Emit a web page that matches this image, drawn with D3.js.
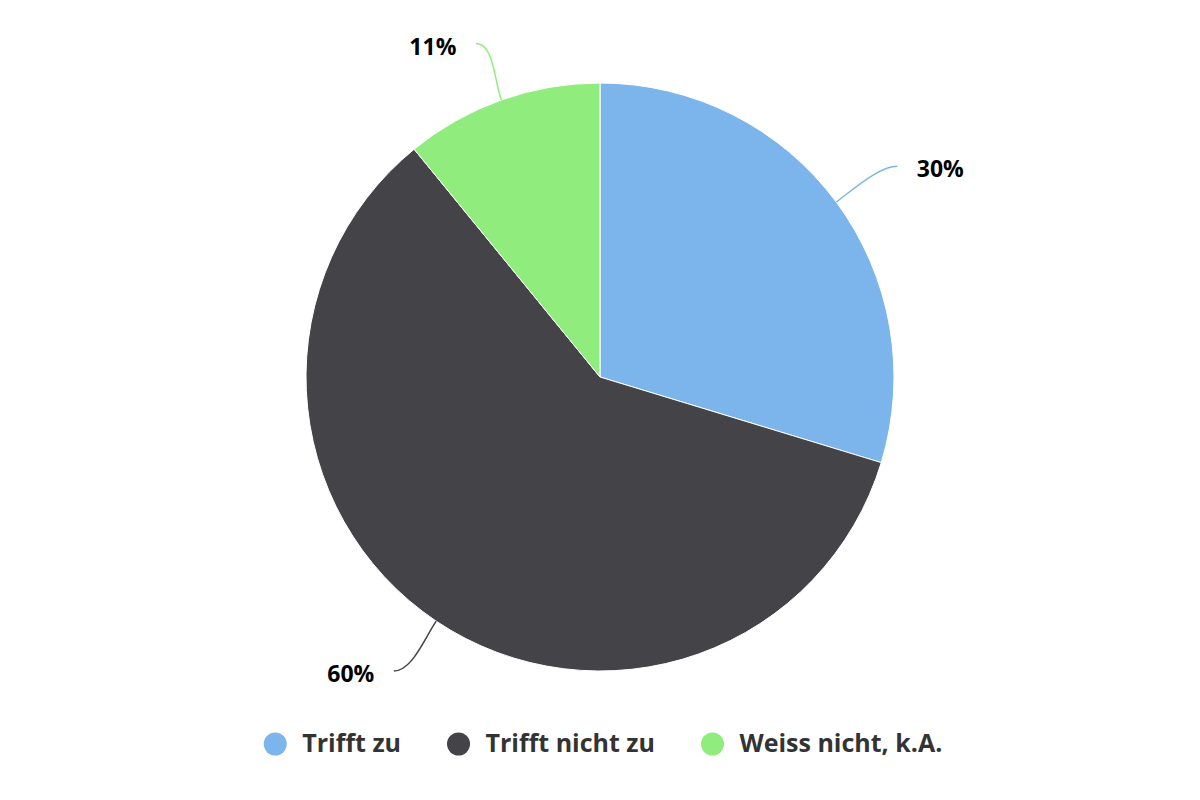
<!DOCTYPE html>
<html>
<head>
<meta charset="utf-8">
<script src="https://cdn.jsdelivr.net/npm/d3@7/dist/d3.min.js"></script>
<style>
  html, body { margin: 0; padding: 0; background: #ffffff; }
  svg { display: block; }
  text { font-family: "Open Sans", "DejaVu Sans", sans-serif; font-weight: bold; }
</style>
</head>
<body>
<svg id="chart" width="1200" height="800"></svg>
<script>
const categories = ["Trifft zu", "Trifft nicht zu", "Weiss nicht, k.A."];
const values = [30, 60, 11];
const labels = ["30%", "60%", "11%"];
const colors = ["#7cb5ec", "#434348", "#90ed7d"];

const svg = d3.select("#chart");
const W = 1200, H = 800;
const cx = 600, cy = 377, r = 294;

const data = categories.map((c, i) => ({ name: c, value: values[i], label: labels[i], color: colors[i] }));

const pie = d3.pie().sort(null).value(d => d.value);
const arcs = pie(data);
const arc = d3.arc().innerRadius(0).outerRadius(r);

const g = svg.append("g").attr("transform", `translate(${cx},${cy})`);

g.selectAll("path.slice")
  .data(arcs)
  .join("path")
  .attr("class", "slice")
  .attr("d", arc)
  .attr("fill", d => d.data.color)
  .attr("stroke", "#ffffff")
  .attr("stroke-width", 1)
  .attr("stroke-linejoin", "round");

// data labels with soft connectors
arcs.forEach(a => {
  const mid = (a.startAngle + a.endAngle) / 2;
  const s = Math.sin(mid), c = Math.cos(mid);
  const edge = [s * r, -c * r];
  const end = [s * (r + 76), -c * (r + 60)];
  const dir = s >= 0 ? 1 : -1;
  const c1 = [end[0] - dir * 18, end[1]];
  const c2 = [s * (r + 22), -c * (r + 22)];
  g.append("path")
    .attr("d", `M${end[0]},${end[1]} C${c1[0]},${c1[1]} ${c2[0]},${c2[1]} ${edge[0]},${edge[1]}`)
    .attr("fill", "none")
    .attr("stroke", a.data.color)
    .attr("stroke-width", 1.5);
  g.append("text")
    .attr("x", end[0] + dir * 19.5)
    .attr("y", end[1] + 5)
    .attr("dominant-baseline", "middle")
    .attr("text-anchor", dir > 0 ? "start" : "end")
    .attr("font-size", 23)
    .attr("fill", "#000000")
    .text(a.data.label);
});

// legend
const legend = svg.append("g");
const items = legend.selectAll("g.item").data(data).join("g").attr("class", "item");
items.append("circle")
  .attr("cx", 11.5).attr("cy", 0).attr("r", 11.5)
  .attr("fill", d => d.color);
items.append("text")
  .attr("x", 38.5).attr("y", 1)
  .attr("dominant-baseline", "middle")
  .attr("font-size", 25)
  .attr("fill", "#333333")
  .text(d => d.name);
let xpos = 0;
const gap = 46;
items.each(function () {
  const el = d3.select(this);
  const tw = el.select("text").node().getComputedTextLength();
  el.attr("transform", `translate(${xpos},0)`);
  xpos += 38.5 + tw + gap;
});
const total = xpos - gap;
legend.attr("transform", `translate(${(W - total) / 2 + 3},744)`);
</script>
</body>
</html>
